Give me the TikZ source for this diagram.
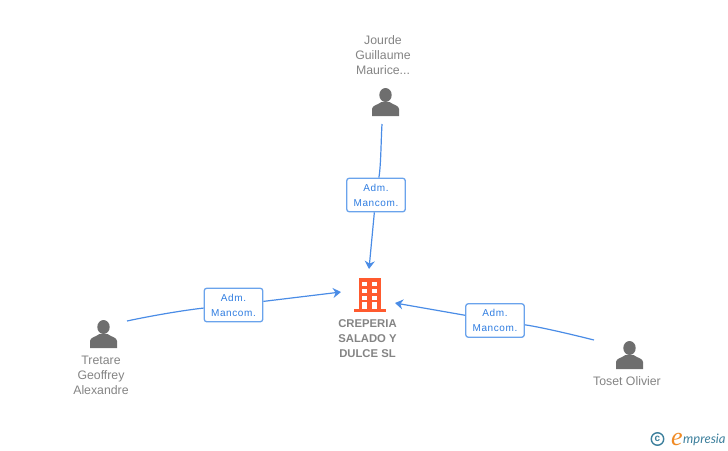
\documentclass[tikz,border=0pt]{standalone}
\usepackage{fontspec}
\setmainfont{Liberation Sans}
\newfontfamily\rolefont[LetterSpace=6]{Liberation Sans}
\newfontfamily\logofont[ItalicFont=Lato Italic]{Lato}
\newfontfamily\logoefont{Liberation Serif}
\usetikzlibrary{positioning,arrows.meta}
\definecolor{linkblue}{HTML}{4A8CE6}
\definecolor{boxblue}{HTML}{6AA3EC}
\definecolor{roleblue}{HTML}{2F7DE1}
\definecolor{namegray}{HTML}{848484}
\definecolor{icongray}{HTML}{6E6E6E}
\definecolor{towerred}{HTML}{FF5A2E}
\definecolor{logoteal}{HTML}{3C7F9C}
\definecolor{logoorange}{HTML}{F08A24}
\tikzset{
  role/.style = {rectangle, rounded corners=2.5pt, draw=boxblue, line width=1.3pt, fill=white,
                 minimum width=58.5pt, minimum height=33.5pt, inner sep=0pt, align=center,
                 text=roleblue, font=\rolefont\fontsize{10}{15}\selectfont},
  person/.style = {align=center, inner sep=0pt, text=namegray,
                   font=\fontsize{12.3}{15}\selectfont},
  firm/.style = {align=center, inner sep=0pt, text=namegray,
                 font=\bfseries\fontsize{11.3}{15}\selectfont},
  link/.style = {linkblue, line width=1.2pt},
  linkto/.style = {link, -{Stealth[length=8pt,width=10pt]}},
  personicon/.pic = {
    \fill[icongray] (0,-7) circle[x radius=6.2, y radius=7];
    \fill[icongray] (-13.5,14) -- (-13.5,7) .. controls (-13.5,3.5) and (-8,3) .. (-4,0)
      -- (4,0) .. controls (8,3) and (13.5,3.5) .. (13.5,7) -- (13.5,14) -- cycle;
  },
  towericon/.pic = {
    \fill[towerred] (-11,-17) rectangle (11,14);
    \fill[towerred] (-16,13.5) rectangle (16,16.7);
    \foreach \x in {-7.7,2.3} {
      \foreach \y in {-13.3,-5.7,1} \fill[white] (\x,\y) rectangle +(5,4);
      \fill[white] (\x,7.3) rectangle +(5,6.2);
    }
  }
}
\begin{document}
\begin{tikzpicture}[x=1pt,y=-1pt]
\useasboundingbox (0,0) rectangle (728,450);

\pic at (370,295) {towericon};
\pic at (385.5,102) {personicon};
\pic at (103.5,334) {personicon};
\pic at (629.5,355) {personicon};

\node (crepe)  [firm]   at (367.5,338.5) {CREPERIA\\SALADO Y\\DULCE SL};
\node (jourde) [person] at (383,55)      {Jourde\\Guillaume\\Maurice...};
\node (tretare)[person] at (101,375.5)   {Tretare\\Geoffrey\\Alexandre};
\node (toset)  [person] at (627,381.5)   {Toset Olivier};

\node (admtop)   [role] at (376,195)   {Adm.\\Mancom.};
\node (admleft)  [role] at (233.5,305) {Adm.\\Mancom.};
\node (admright) [role] at (495,320.5) {Adm.\\Mancom.};

\coordinate (jourdeout)  at (382,124);
\coordinate (tretareout) at (127,321);
\coordinate (tosetout)   at (594,340);
\coordinate (crepetop)   at (369,269);
\coordinate (crepeleft)  at (341,292);
\coordinate (creperight) at (395,303);

\draw[link] (jourdeout) .. controls (381,140) and (381,165) .. (admtop);
\draw[linkto] (admtop) -- (crepetop);
\draw[link] (tretareout) .. controls (150,316) and (185,310) .. (admleft);
\draw[linkto] (admleft) -- (crepeleft);
\draw[link] (tosetout) .. controls (570,334) and (540,327) .. (admright);
\draw[linkto] (admright) -- (creperight);

% logo
\node (copyr) [circle, draw=logoteal, line width=1.4pt, minimum size=12.5pt, inner sep=0pt,
               text=logoteal, font=\bfseries\fontsize{10}{10}\selectfont] at (657.5,439) {c};
\node (logoe) [text=logoorange, inner sep=0pt, anchor=base, font=\logoefont\itshape\fontsize{26}{26}\selectfont] at (677,445) {e};
\node (logot) [text=logoteal, inner sep=0pt, anchor=base west, font=\logofont\itshape\fontsize{13}{13}\selectfont] at (683,443.5) {mpresia};

\end{tikzpicture}
\end{document}
